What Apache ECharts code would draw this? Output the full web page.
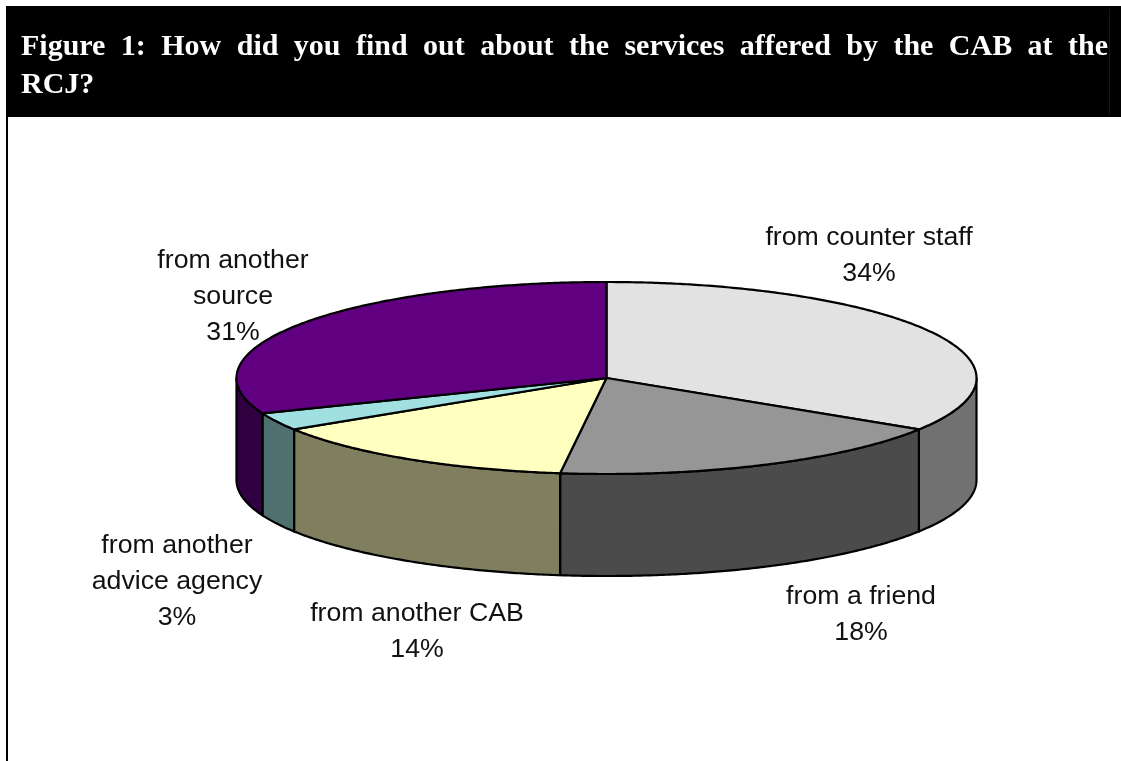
<!DOCTYPE html>
<html>
<head>
<meta charset="utf-8">
<title>Figure 1</title>
<script src="https://cdn.jsdelivr.net/npm/echarts@6/dist/echarts.min.js"></script>
<style>
  html, body { margin: 0; padding: 0; background: #fff; }
  #chart { width: 1121px; height: 761px; }
</style>
</head>
<body>
<div id="chart"></div>
<script>
// Survey responses, clockwise from twelve o'clock
const categories = ['from counter staff', 'from a friend', 'from another CAB', 'from another\nadvice agency', 'from another\nsource'];
const shares = [34, 18, 14, 3, 31];
const topColors = ['#E2E2E2', '#969696', '#FFFFC0', '#A0E0E0', '#600080'];
const titleLines = [
  'Figure 1: How did you find out about the services affered by the CAB at the',
  'RCJ?'
];

// Geometry of the tilted disc
const disc = { cx: 606.5, cy: 378, rx: 370, ry: 96, depth: 102 };
// Centre of each label block
const labelCentres = [[869, 255.5], [861, 614.5], [417, 632], [177, 581.5], [233, 296.5]];
const labelFont = { size: 26.7, lineHeight: 35.8 };

const titleSize = 30;
const titleFont = `bold ${titleSize}px "Liberation Serif"`;
const titleLeft = 21, titleRight = 1108;
// Bottom edge of each heading line box
const titleBottoms = [62, 100];

function halfTone(hex) {
  const n = parseInt(hex.slice(1), 16);
  const c = [n >> 16, (n >> 8) & 255, n & 255].map(v => v >> 1);
  return `rgb(${c.join(',')})`;
}

// Point on the rim, angle in radians clockwise from the top, lowered by the wall depth if asked
function rim(a, drop) {
  return [disc.cx + disc.rx * Math.sin(a), disc.cy - disc.ry * Math.cos(a) + (drop || 0)];
}

function arcPoints(a0, a1, drop) {
  const steps = Math.max(2, Math.ceil(Math.abs(a1 - a0) / (Math.PI / 360)));
  const pts = [];
  for (let i = 0; i <= steps; i++) pts.push(rim(a0 + (a1 - a0) * i / steps, drop));
  return pts;
}

const total = shares.reduce((s, v) => s + v, 0);
const stroke = { stroke: '#000', lineWidth: 2.2, lineJoin: 'round' };

function renderSlice(params, api) {
  const i = params.dataIndex;
  const value = api.value(0);
  const before = shares.slice(0, i).reduce((s, v) => s + v, 0);
  const a0 = before / total * 2 * Math.PI;
  const a1 = a0 + value / total * 2 * Math.PI;
  const children = [];

  // Front wall: only the part of the rim between 3 and 9 o'clock is visible
  const w0 = Math.max(a0, Math.PI / 2), w1 = Math.min(a1, 3 * Math.PI / 2);
  if (w1 > w0) {
    children.push({
      type: 'polygon',
      z2: 1,
      shape: { points: arcPoints(w0, w1, 0).concat(arcPoints(w1, w0, disc.depth)) },
      style: Object.assign({ fill: halfTone(topColors[i]) }, stroke)
    });
  }

  // Top face
  children.push({
    type: 'polygon',
    z2: 2,
    shape: { points: [[disc.cx, disc.cy]].concat(arcPoints(a0, a1, 0)) },
    style: Object.assign({ fill: topColors[i] }, stroke)
  });

  // Category and percentage
  children.push({
    type: 'text',
    z2: 3,
    style: {
      text: categories[i] + '\n' + value + '%',
      x: labelCentres[i][0],
      y: labelCentres[i][1],
      align: 'center',
      verticalAlign: 'middle',
      fontFamily: '"Liberation Sans"',
      fontSize: labelFont.size,
      lineHeight: labelFont.lineHeight,
      fill: '#111'
    }
  });
  return { type: 'group', children };
}

// The heading is justified, so its first line is set word by word across the full measure
function titleElements() {
  const ctx = document.createElement('canvas').getContext('2d');
  ctx.font = titleFont;
  const out = [];
  titleLines.forEach((line, li) => {
    const words = line.split(' ');
    const widths = words.map(w => ctx.measureText(w).width);
    const used = widths.reduce((s, v) => s + v, 0);
    const gap = li === 0 ? (titleRight - titleLeft - used) / (words.length - 1) : ctx.measureText(' ').width;
    let x = titleLeft;
    words.forEach((w, k) => {
      out.push({
        type: 'text',
        z: 5,
        style: { text: w, x, y: titleBottoms[li], font: titleFont, fill: '#fff', verticalAlign: 'bottom' }
      });
      x += widths[k] + gap;
    });
  });
  return out;
}

const chart = echarts.init(document.getElementById('chart'), null, { renderer: 'canvas' });
chart.setOption({
  animation: false,
  backgroundColor: '#fff',
  graphic: [
    { type: 'rect', z: 1, shape: { x: 6, y: 6, width: 1115, height: 111 }, style: { fill: '#000' } },
    { type: 'rect', z: 2, shape: { x: 1109, y: 9, width: 1, height: 106 }, style: { fill: '#161616' } },
    { type: 'rect', z: 1, shape: { x: 6, y: 117, width: 2, height: 644 }, style: { fill: '#000' } }
  ].concat(titleElements()),
  series: [{
    type: 'custom',
    coordinateSystem: 'none',
    silent: true,
    renderItem: renderSlice,
    data: shares.map(v => [v])
  }]
});
</script>
</body>
</html>
